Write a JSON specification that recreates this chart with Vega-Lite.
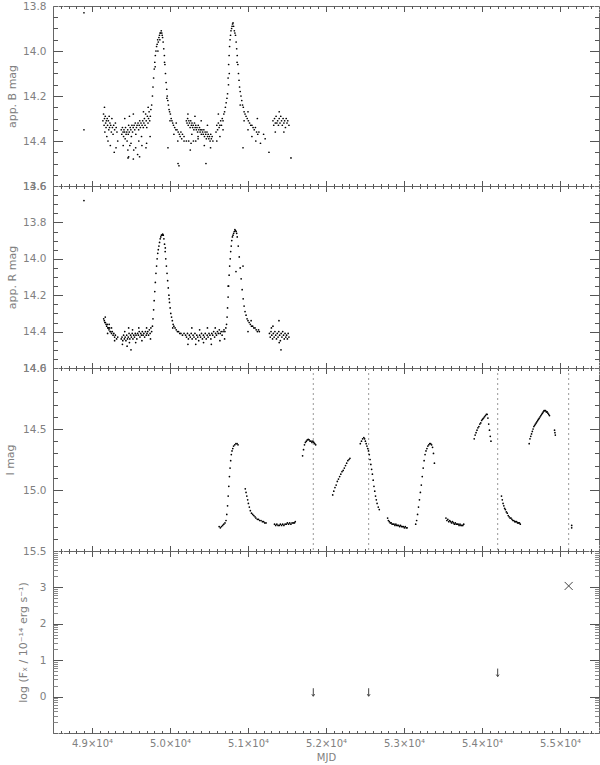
{
"$schema": "https://vega.github.io/schema/vega-lite/v6.json",
"padding": {"left": 3, "top": 0, "right": 2, "bottom": 0},
"background": "white",
"spacing": 0,
"bounds": "flush",
"config": {
  "view": {"stroke": "#666", "strokeWidth": 1},
  "axis": {"labelFont": "DejaVu Sans", "labelColor": "#808080", "labelFontSize": 10.5, "titleFont": "DejaVu Sans", "titleColor": "#808080", "titleFontWeight": "normal", "titleFontSize": 11, "grid": false}
},
"datasets": {
"xr": [{"t":51837,"v":0.12,"kind":"ul"},{"t":52547,"v":0.12,"kind":"ul"},{"t":54201,"v":0.66,"kind":"ul"},{"t":55111,"v":3.04,"kind":"det"}],
"B": [
{"t":48897,"m":13.83},{"t":48897,"m":14.35},
{"t":49140,"m":14.31},{"t":49148,"m":14.28},{"t":49155,"m":14.33},{"t":49160,"m":14.30},{"t":49165,"m":14.36},{"t":49170,"m":14.29},{"t":49175,"m":14.32},{"t":49180,"m":14.34},{"t":49185,"m":14.31},{"t":49190,"m":14.38},{"t":49195,"m":14.30},{"t":49200,"m":14.33},{"t":49205,"m":14.40},{"t":49210,"m":14.31},{"t":49215,"m":14.35},{"t":49220,"m":14.29},{"t":49225,"m":14.34},{"t":49230,"m":14.32},{"t":49235,"m":14.42},{"t":49240,"m":14.33},{"t":49248,"m":14.36},{"t":49255,"m":14.30},{"t":49262,"m":14.34},{"t":49270,"m":14.37},{"t":49278,"m":14.33},{"t":49285,"m":14.45},{"t":49290,"m":14.35},{"t":49300,"m":14.32},{"t":49310,"m":14.34},{"t":49320,"m":14.36},{"t":49330,"m":14.40},{"t":49160,"m":14.25},{"t":49308,"m":14.43},
{"t":49375,"m":14.35},{"t":49382,"m":14.37},{"t":49390,"m":14.34},{"t":49398,"m":14.36},{"t":49405,"m":14.38},{"t":49410,"m":14.35},{"t":49418,"m":14.36},{"t":49425,"m":14.39},{"t":49430,"m":14.34},{"t":49437,"m":14.37},{"t":49445,"m":14.36},{"t":49450,"m":14.40},{"t":49458,"m":14.35},{"t":49465,"m":14.37},{"t":49470,"m":14.33},{"t":49478,"m":14.36},{"t":49485,"m":14.42},{"t":49490,"m":14.34},{"t":49498,"m":14.35},{"t":49505,"m":14.38},{"t":49512,"m":14.33},{"t":49520,"m":14.36},{"t":49528,"m":14.34},{"t":49535,"m":14.44},{"t":49540,"m":14.33},{"t":49548,"m":14.35},{"t":49555,"m":14.32},{"t":49562,"m":14.37},{"t":49570,"m":14.34},{"t":49578,"m":14.33},{"t":49585,"m":14.46},{"t":49590,"m":14.32},{"t":49598,"m":14.35},{"t":49605,"m":14.33},{"t":49612,"m":14.31},{"t":49620,"m":14.34},{"t":49628,"m":14.32},{"t":49635,"m":14.38},{"t":49642,"m":14.33},{"t":49650,"m":14.31},{"t":49658,"m":14.34},{"t":49665,"m":14.32},{"t":49672,"m":14.30},{"t":49680,"m":14.33},{"t":49688,"m":14.28},{"t":49695,"m":14.31},{"t":49702,"m":14.34},{"t":49710,"m":14.29},{"t":49718,"m":14.32},{"t":49725,"m":14.30},{"t":49732,"m":14.27},{"t":49740,"m":14.31},{"t":49748,"m":14.29},{"t":49755,"m":14.26},
{"t":49400,"m":14.42},{"t":49420,"m":14.30},{"t":49460,"m":14.44},{"t":49480,"m":14.29},{"t":49500,"m":14.41},{"t":49530,"m":14.28},{"t":49560,"m":14.43},{"t":49600,"m":14.40},{"t":49610,"m":14.47},{"t":49640,"m":14.42},{"t":49660,"m":14.27},{"t":49700,"m":14.41},{"t":49720,"m":14.25},{"t":49745,"m":14.38},{"t":49530,"m":14.48},{"t":49470,"m":14.47},{"t":49462,"m":14.475},{"t":49692,"m":14.43},
{"t":49765,"m":14.24},{"t":49775,"m":14.20},{"t":49782,"m":14.16},{"t":49790,"m":14.12},{"t":49798,"m":14.08},{"t":49805,"m":14.05},{"t":49812,"m":14.02},{"t":49820,"m":14.00},{"t":49828,"m":13.98},{"t":49835,"m":13.97},{"t":49842,"m":13.95},{"t":49850,"m":13.96},{"t":49858,"m":13.94},{"t":49865,"m":13.93},{"t":49872,"m":13.92},{"t":49880,"m":13.92},{"t":49888,"m":13.91},{"t":49895,"m":13.92},{"t":49900,"m":13.93},{"t":49810,"m":14.07},{"t":49845,"m":14.00},{"t":49870,"m":13.95},
{"t":49905,"m":13.94},{"t":49912,"m":13.96},{"t":49920,"m":13.99},{"t":49928,"m":14.02},{"t":49935,"m":14.06},{"t":49942,"m":14.10},{"t":49950,"m":14.14},{"t":49958,"m":14.17},{"t":49965,"m":14.20},{"t":49972,"m":14.22},{"t":49980,"m":14.24},{"t":49988,"m":14.26},{"t":49995,"m":14.27},{"t":50005,"m":14.28},{"t":50015,"m":14.30},{"t":50025,"m":14.31},{"t":50035,"m":14.32},{"t":50045,"m":14.33},{"t":50060,"m":14.34},{"t":50075,"m":14.35},{"t":50090,"m":14.35},{"t":50105,"m":14.36},{"t":50120,"m":14.37},{"t":50140,"m":14.36},{"t":50160,"m":14.37},{"t":50180,"m":14.38},
{"t":49930,"m":14.05},{"t":49960,"m":14.21},{"t":50000,"m":14.31},{"t":50050,"m":14.37},{"t":50080,"m":14.32},{"t":50100,"m":14.40},{"t":50130,"m":14.38},{"t":49974,"m":14.43},{"t":50103,"m":14.50},{"t":50115,"m":14.51},
{"t":50150,"m":14.39},{"t":50180,"m":14.40},{"t":50210,"m":14.40},{"t":50240,"m":14.40},{"t":50270,"m":14.41},{"t":50300,"m":14.40},{"t":50330,"m":14.40},{"t":50360,"m":14.39},
{"t":50210,"m":14.31},{"t":50218,"m":14.32},{"t":50226,"m":14.30},{"t":50234,"m":14.33},{"t":50242,"m":14.31},{"t":50250,"m":14.32},{"t":50258,"m":14.34},{"t":50266,"m":14.31},{"t":50274,"m":14.33},{"t":50282,"m":14.32},{"t":50290,"m":14.34},{"t":50298,"m":14.33},{"t":50306,"m":14.35},{"t":50314,"m":14.32},{"t":50322,"m":14.34},{"t":50330,"m":14.33},{"t":50338,"m":14.35},{"t":50346,"m":14.34},{"t":50354,"m":14.36},{"t":50362,"m":14.33},{"t":50370,"m":14.35},{"t":50378,"m":14.34},{"t":50386,"m":14.36},{"t":50394,"m":14.35},{"t":50402,"m":14.37},{"t":50410,"m":14.35},{"t":50418,"m":14.36},{"t":50426,"m":14.37},{"t":50434,"m":14.35},{"t":50442,"m":14.38},{"t":50450,"m":14.36},{"t":50458,"m":14.37},{"t":50466,"m":14.39},{"t":50474,"m":14.36},{"t":50482,"m":14.38},{"t":50490,"m":14.37},{"t":50498,"m":14.39},{"t":50506,"m":14.38},{"t":50514,"m":14.40},{"t":50522,"m":14.37},{"t":50530,"m":14.39},{"t":50540,"m":14.38},{"t":50550,"m":14.40},
{"t":50230,"m":14.28},{"t":50280,"m":14.37},{"t":50320,"m":14.29},{"t":50360,"m":14.38},{"t":50400,"m":14.31},{"t":50440,"m":14.42},{"t":50480,"m":14.33},{"t":50520,"m":14.43},{"t":50260,"m":14.44},{"t":50461,"m":14.50},
{"t":50590,"m":14.36},{"t":50600,"m":14.33},{"t":50610,"m":14.35},{"t":50620,"m":14.32},{"t":50630,"m":14.34},{"t":50640,"m":14.33},{"t":50650,"m":14.31},{"t":50660,"m":14.33},{"t":50670,"m":14.30},{"t":50680,"m":14.31},{"t":50690,"m":14.28},{"t":50700,"m":14.27},{"t":50710,"m":14.25},{"t":50720,"m":14.23},{"t":50730,"m":14.21},{"t":50738,"m":14.19},{"t":50600,"m":14.40},{"t":50640,"m":14.38},{"t":50680,"m":14.35},{"t":50620,"m":14.28},
{"t":50745,"m":14.12},{"t":50752,"m":14.06},{"t":50758,"m":14.02},{"t":50764,"m":13.98},{"t":50770,"m":13.95},{"t":50776,"m":13.93},{"t":50782,"m":13.91},{"t":50790,"m":13.90},{"t":50796,"m":13.89},{"t":50802,"m":13.88},{"t":50808,"m":13.875},{"t":50815,"m":13.89},{"t":50760,"m":14.10},{"t":50750,"m":14.15},
{"t":50825,"m":13.91},{"t":50832,"m":13.92},{"t":50840,"m":13.93},{"t":50848,"m":13.96},{"t":50855,"m":13.99},{"t":50862,"m":14.02},{"t":50870,"m":14.06},{"t":50878,"m":14.10},{"t":50885,"m":14.13},{"t":50892,"m":14.16},{"t":50900,"m":14.18},{"t":50910,"m":14.20},{"t":50920,"m":14.22},{"t":50930,"m":14.24},{"t":50940,"m":14.25},{"t":50950,"m":14.27},{"t":50962,"m":14.28},{"t":50975,"m":14.29},{"t":50990,"m":14.30},{"t":51005,"m":14.31},{"t":51020,"m":14.32},{"t":51035,"m":14.33},{"t":51050,"m":14.33},{"t":51065,"m":14.34},{"t":51080,"m":14.35},{"t":51095,"m":14.34},{"t":51110,"m":14.36},{"t":51125,"m":14.37},{"t":51140,"m":14.36},
{"t":50860,"m":14.05},{"t":50900,"m":14.24},{"t":50950,"m":14.31},{"t":51000,"m":14.35},{"t":51050,"m":14.38},{"t":51100,"m":14.40},{"t":51120,"m":14.30},{"t":51000,"m":14.27},{"t":51160,"m":14.41},{"t":51200,"m":14.37},{"t":51220,"m":14.39},{"t":50936,"m":14.43},{"t":51269,"m":14.45},
{"t":51320,"m":14.31},{"t":51330,"m":14.33},{"t":51340,"m":14.30},{"t":51350,"m":14.32},{"t":51360,"m":14.29},{"t":51370,"m":14.32},{"t":51380,"m":14.31},{"t":51390,"m":14.33},{"t":51400,"m":14.30},{"t":51410,"m":14.32},{"t":51420,"m":14.29},{"t":51430,"m":14.31},{"t":51440,"m":14.33},{"t":51450,"m":14.30},{"t":51460,"m":14.32},{"t":51470,"m":14.31},{"t":51480,"m":14.34},{"t":51490,"m":14.30},{"t":51500,"m":14.32},{"t":51510,"m":14.31},{"t":51525,"m":14.33},{"t":51400,"m":14.27},{"t":51460,"m":14.36},{"t":51350,"m":14.36},{"t":51551,"m":14.475}
],
"R": [
{"t":48897,"m":13.68},
{"t":49150,"m":14.33},{"t":49158,"m":14.34},{"t":49165,"m":14.35},{"t":49172,"m":14.35},{"t":49180,"m":14.36},{"t":49188,"m":14.37},{"t":49195,"m":14.36},{"t":49203,"m":14.38},{"t":49210,"m":14.38},{"t":49218,"m":14.39},{"t":49225,"m":14.38},{"t":49232,"m":14.40},{"t":49240,"m":14.40},{"t":49250,"m":14.41},{"t":49260,"m":14.40},{"t":49270,"m":14.42},{"t":49280,"m":14.41},{"t":49290,"m":14.43},{"t":49300,"m":14.42},{"t":49315,"m":14.44},{"t":49330,"m":14.43},{"t":49170,"m":14.32},{"t":49200,"m":14.41},{"t":49250,"m":14.38},{"t":49290,"m":14.45},{"t":49220,"m":14.36},
{"t":49375,"m":14.44},{"t":49385,"m":14.43},{"t":49395,"m":14.45},{"t":49405,"m":14.42},{"t":49415,"m":14.44},{"t":49425,"m":14.43},{"t":49435,"m":14.45},{"t":49445,"m":14.42},{"t":49455,"m":14.44},{"t":49465,"m":14.43},{"t":49475,"m":14.41},{"t":49485,"m":14.44},{"t":49495,"m":14.42},{"t":49505,"m":14.43},{"t":49515,"m":14.41},{"t":49525,"m":14.44},{"t":49535,"m":14.42},{"t":49545,"m":14.43},{"t":49555,"m":14.41},{"t":49565,"m":14.42},{"t":49575,"m":14.44},{"t":49585,"m":14.41},{"t":49595,"m":14.42},{"t":49605,"m":14.40},{"t":49615,"m":14.43},{"t":49625,"m":14.41},{"t":49635,"m":14.42},{"t":49645,"m":14.40},{"t":49655,"m":14.42},{"t":49665,"m":14.41},{"t":49675,"m":14.43},{"t":49685,"m":14.40},{"t":49695,"m":14.42},{"t":49705,"m":14.41},{"t":49715,"m":14.40},{"t":49725,"m":14.42},{"t":49735,"m":14.39},{"t":49745,"m":14.41},{"t":49755,"m":14.38},{"t":49765,"m":14.40},
{"t":49390,"m":14.47},{"t":49420,"m":14.40},{"t":49450,"m":14.48},{"t":49480,"m":14.46},{"t":49500,"m":14.50},{"t":49520,"m":14.39},{"t":49560,"m":14.46},{"t":49600,"m":14.38},{"t":49640,"m":14.45},{"t":49700,"m":14.38},{"t":49750,"m":14.44},{"t":49470,"m":14.38},
{"t":49775,"m":14.37},{"t":49782,"m":14.33},{"t":49790,"m":14.28},{"t":49797,"m":14.23},{"t":49805,"m":14.18},{"t":49812,"m":14.13},{"t":49820,"m":14.08},{"t":49828,"m":14.04},{"t":49835,"m":14.00},{"t":49843,"m":13.97},{"t":49850,"m":13.95},{"t":49858,"m":13.93},{"t":49866,"m":13.91},{"t":49874,"m":13.89},{"t":49882,"m":13.88},{"t":49890,"m":13.87},{"t":49898,"m":13.87},{"t":49906,"m":13.865},{"t":49914,"m":13.87},
{"t":49922,"m":13.89},{"t":49930,"m":13.92},{"t":49938,"m":13.96},{"t":49946,"m":14.00},{"t":49954,"m":14.04},{"t":49962,"m":14.08},{"t":49970,"m":14.12},{"t":49978,"m":14.16},{"t":49986,"m":14.20},{"t":49994,"m":14.24},{"t":50002,"m":14.27},{"t":50010,"m":14.30},{"t":50020,"m":14.32},{"t":50030,"m":14.34},{"t":50040,"m":14.36},{"t":50050,"m":14.37},{"t":50065,"m":14.38},{"t":50080,"m":14.39},{"t":50095,"m":14.40},{"t":50110,"m":14.40},{"t":50125,"m":14.41},{"t":50140,"m":14.41},{"t":50160,"m":14.42},{"t":50180,"m":14.41},{"t":49940,"m":13.94},{"t":49990,"m":14.22},{"t":50035,"m":14.38},
{"t":50200,"m":14.42},{"t":50212,"m":14.43},{"t":50224,"m":14.41},{"t":50236,"m":14.44},{"t":50248,"m":14.42},{"t":50260,"m":14.43},{"t":50272,"m":14.41},{"t":50284,"m":14.44},{"t":50296,"m":14.42},{"t":50308,"m":14.43},{"t":50320,"m":14.41},{"t":50332,"m":14.44},{"t":50344,"m":14.42},{"t":50356,"m":14.43},{"t":50368,"m":14.45},{"t":50380,"m":14.42},{"t":50392,"m":14.43},{"t":50404,"m":14.41},{"t":50416,"m":14.44},{"t":50428,"m":14.42},{"t":50440,"m":14.43},{"t":50452,"m":14.41},{"t":50464,"m":14.44},{"t":50476,"m":14.42},{"t":50488,"m":14.43},{"t":50500,"m":14.41},{"t":50512,"m":14.42},{"t":50524,"m":14.44},{"t":50536,"m":14.41},{"t":50548,"m":14.42},{"t":50560,"m":14.40},{"t":50572,"m":14.43},{"t":50584,"m":14.41},{"t":50596,"m":14.42},{"t":50608,"m":14.40},{"t":50620,"m":14.41},{"t":50632,"m":14.39},{"t":50644,"m":14.41},{"t":50656,"m":14.40},{"t":50668,"m":14.42},{"t":50680,"m":14.40},{"t":50692,"m":14.39},{"t":50704,"m":14.40},{"t":50716,"m":14.38},
{"t":50230,"m":14.47},{"t":50280,"m":14.38},{"t":50330,"m":14.47},{"t":50380,"m":14.39},{"t":50430,"m":14.46},{"t":50480,"m":14.38},{"t":50530,"m":14.47},{"t":50580,"m":14.38},{"t":50640,"m":14.45},{"t":50700,"m":14.44},
{"t":50725,"m":14.36},{"t":50732,"m":14.32},{"t":50738,"m":14.27},{"t":50745,"m":14.21},{"t":50752,"m":14.15},{"t":50758,"m":14.09},{"t":50765,"m":14.04},{"t":50772,"m":14.00},{"t":50778,"m":13.96},{"t":50785,"m":13.93},{"t":50792,"m":13.90},{"t":50800,"m":13.88},{"t":50808,"m":13.87},{"t":50816,"m":13.86},{"t":50824,"m":13.85},{"t":50832,"m":13.84},{"t":50840,"m":13.845},{"t":50848,"m":13.85},{"t":50855,"m":13.86},{"t":50745,"m":14.15},{"t":50846,"m":14.07},
{"t":50862,"m":13.88},{"t":50875,"m":13.93},{"t":50888,"m":13.99},{"t":50900,"m":14.05},{"t":50912,"m":14.11},{"t":50925,"m":14.17},{"t":50938,"m":14.22},{"t":50950,"m":14.26},{"t":50962,"m":14.29},{"t":50975,"m":14.31},{"t":50988,"m":14.33},{"t":51000,"m":14.34},{"t":51015,"m":14.35},{"t":51030,"m":14.36},{"t":51045,"m":14.37},{"t":51060,"m":14.37},{"t":51075,"m":14.38},{"t":51090,"m":14.38},{"t":51105,"m":14.39},{"t":51120,"m":14.40},{"t":51135,"m":14.39},{"t":51145,"m":14.40},{"t":50936,"m":14.04},{"t":51000,"m":14.40},{"t":51040,"m":14.34},
{"t":51275,"m":14.41},{"t":51285,"m":14.43},{"t":51295,"m":14.40},{"t":51305,"m":14.42},{"t":51315,"m":14.44},{"t":51325,"m":14.41},{"t":51335,"m":14.43},{"t":51345,"m":14.40},{"t":51355,"m":14.42},{"t":51365,"m":14.44},{"t":51375,"m":14.41},{"t":51385,"m":14.43},{"t":51395,"m":14.40},{"t":51405,"m":14.42},{"t":51415,"m":14.45},{"t":51425,"m":14.41},{"t":51435,"m":14.43},{"t":51445,"m":14.40},{"t":51455,"m":14.42},{"t":51465,"m":14.44},{"t":51475,"m":14.41},{"t":51485,"m":14.43},{"t":51495,"m":14.42},{"t":51505,"m":14.44},{"t":51515,"m":14.41},{"t":51525,"m":14.43},{"t":51320,"m":14.37},{"t":51400,"m":14.46},{"t":51300,"m":14.38},{"t":51423,"m":14.50},{"t":51397,"m":14.34}
],
"I": [
{"t":50630,"m":15.30},{"t":50645,"m":15.31},{"t":50660,"m":15.30},{"t":50675,"m":15.29},{"t":50690,"m":15.28},{"t":50705,"m":15.27},{"t":50718,"m":15.25},{"t":50728,"m":15.20},{"t":50738,"m":15.13},{"t":50746,"m":15.05},{"t":50754,"m":14.97},{"t":50762,"m":14.89},{"t":50770,"m":14.82},{"t":50778,"m":14.76},{"t":50786,"m":14.71},{"t":50795,"m":14.68},{"t":50805,"m":14.66},{"t":50815,"m":14.64},{"t":50830,"m":14.63},{"t":50845,"m":14.62},{"t":50860,"m":14.62},{"t":50872,"m":14.63},
{"t":50965,"m":14.99},{"t":50975,"m":15.02},{"t":50985,"m":15.05},{"t":50996,"m":15.08},{"t":51005,"m":15.11},{"t":51017,"m":15.14},{"t":51030,"m":15.17},{"t":51045,"m":15.19},{"t":51060,"m":15.20},{"t":51075,"m":15.21},{"t":51090,"m":15.22},{"t":51102,"m":15.23},{"t":51120,"m":15.24},{"t":51135,"m":15.24},{"t":51150,"m":15.25},{"t":51167,"m":15.25},{"t":51185,"m":15.26},{"t":51200,"m":15.26},{"t":51215,"m":15.27},{"t":51231,"m":15.27},
{"t":51340,"m":15.28},{"t":51355,"m":15.29},{"t":51370,"m":15.28},{"t":51385,"m":15.29},{"t":51400,"m":15.29},{"t":51415,"m":15.28},{"t":51430,"m":15.29},{"t":51445,"m":15.28},{"t":51460,"m":15.29},{"t":51475,"m":15.28},{"t":51490,"m":15.28},{"t":51505,"m":15.27},{"t":51520,"m":15.28},{"t":51535,"m":15.27},{"t":51550,"m":15.28},{"t":51565,"m":15.27},{"t":51580,"m":15.27},{"t":51595,"m":15.27},{"t":51606,"m":15.26},
{"t":51700,"m":14.72},{"t":51712,"m":14.67},{"t":51724,"m":14.63},{"t":51736,"m":14.61},{"t":51748,"m":14.60},{"t":51760,"m":14.59},{"t":51772,"m":14.585},{"t":51784,"m":14.59},{"t":51796,"m":14.60},{"t":51808,"m":14.60},{"t":51820,"m":14.61},{"t":51832,"m":14.60},{"t":51844,"m":14.61},{"t":51856,"m":14.62},{"t":51868,"m":14.63},
{"t":52086,"m":15.04},{"t":52100,"m":15.01},{"t":52115,"m":14.98},{"t":52130,"m":14.96},{"t":52145,"m":14.93},{"t":52160,"m":14.91},{"t":52175,"m":14.89},{"t":52190,"m":14.87},{"t":52205,"m":14.85},{"t":52220,"m":14.84},{"t":52235,"m":14.82},{"t":52250,"m":14.80},{"t":52265,"m":14.78},{"t":52280,"m":14.76},{"t":52295,"m":14.75},{"t":52307,"m":14.74},
{"t":52440,"m":14.62},{"t":52455,"m":14.60},{"t":52470,"m":14.58},{"t":52485,"m":14.57},{"t":52495,"m":14.58},{"t":52505,"m":14.60},{"t":52515,"m":14.62},{"t":52525,"m":14.64},{"t":52535,"m":14.66},{"t":52545,"m":14.68},{"t":52555,"m":14.71},{"t":52565,"m":14.75},{"t":52575,"m":14.79},{"t":52585,"m":14.83},{"t":52595,"m":14.87},{"t":52605,"m":14.92},{"t":52615,"m":14.97},{"t":52625,"m":15.01},{"t":52635,"m":15.05},{"t":52645,"m":15.08},{"t":52655,"m":15.11},{"t":52670,"m":15.14},{"t":52683,"m":15.16},
{"t":52790,"m":15.23},{"t":52800,"m":15.25},{"t":52812,"m":15.26},{"t":52824,"m":15.27},{"t":52836,"m":15.27},{"t":52848,"m":15.28},{"t":52860,"m":15.28},{"t":52872,"m":15.28},{"t":52884,"m":15.29},{"t":52896,"m":15.28},{"t":52908,"m":15.29},{"t":52920,"m":15.29},{"t":52932,"m":15.29},{"t":52944,"m":15.30},{"t":52956,"m":15.29},{"t":52968,"m":15.30},{"t":52980,"m":15.30},{"t":52992,"m":15.30},{"t":53004,"m":15.31},{"t":53016,"m":15.30},{"t":53028,"m":15.31},{"t":53040,"m":15.31},
{"t":53150,"m":15.28},{"t":53162,"m":15.25},{"t":53174,"m":15.20},{"t":53186,"m":15.14},{"t":53198,"m":15.08},{"t":53210,"m":15.02},{"t":53222,"m":14.96},{"t":53234,"m":14.89},{"t":53246,"m":14.82},{"t":53258,"m":14.76},{"t":53270,"m":14.71},{"t":53282,"m":14.68},{"t":53294,"m":14.66},{"t":53306,"m":14.64},{"t":53318,"m":14.63},{"t":53330,"m":14.62},{"t":53342,"m":14.62},{"t":53354,"m":14.63},{"t":53366,"m":14.65},{"t":53378,"m":14.70},{"t":53390,"m":14.78},
{"t":53538,"m":15.23},{"t":53550,"m":15.25},{"t":53562,"m":15.24},{"t":53574,"m":15.26},{"t":53586,"m":15.25},{"t":53598,"m":15.26},{"t":53610,"m":15.27},{"t":53622,"m":15.26},{"t":53634,"m":15.27},{"t":53646,"m":15.28},{"t":53658,"m":15.27},{"t":53670,"m":15.28},{"t":53682,"m":15.28},{"t":53694,"m":15.28},{"t":53706,"m":15.29},{"t":53718,"m":15.28},{"t":53730,"m":15.29},{"t":53742,"m":15.29},{"t":53754,"m":15.29},{"t":53766,"m":15.28},
{"t":53900,"m":14.58},{"t":53912,"m":14.55},{"t":53924,"m":14.53},{"t":53936,"m":14.51},{"t":53948,"m":14.49},{"t":53960,"m":14.48},{"t":53972,"m":14.46},{"t":53984,"m":14.45},{"t":53996,"m":14.43},{"t":54008,"m":14.42},{"t":54020,"m":14.41},{"t":54032,"m":14.40},{"t":54044,"m":14.39},{"t":54056,"m":14.38},{"t":54066,"m":14.38},{"t":54076,"m":14.41},{"t":54086,"m":14.46},{"t":54096,"m":14.51},{"t":54106,"m":14.56},{"t":54115,"m":14.60},
{"t":54250,"m":15.05},{"t":54260,"m":15.08},{"t":54270,"m":15.11},{"t":54280,"m":15.13},{"t":54290,"m":15.15},{"t":54300,"m":15.16},{"t":54312,"m":15.18},{"t":54324,"m":15.19},{"t":54336,"m":15.21},{"t":54348,"m":15.22},{"t":54360,"m":15.23},{"t":54372,"m":15.23},{"t":54384,"m":15.24},{"t":54396,"m":15.25},{"t":54408,"m":15.25},{"t":54420,"m":15.26},{"t":54432,"m":15.26},{"t":54444,"m":15.26},{"t":54456,"m":15.27},{"t":54468,"m":15.27},{"t":54480,"m":15.27},{"t":54491,"m":15.28},
{"t":54605,"m":14.62},{"t":54615,"m":14.58},{"t":54625,"m":14.56},{"t":54635,"m":14.54},{"t":54645,"m":14.52},{"t":54655,"m":14.50},{"t":54665,"m":14.48},{"t":54675,"m":14.47},{"t":54685,"m":14.46},{"t":54695,"m":14.45},{"t":54705,"m":14.44},{"t":54715,"m":14.43},{"t":54725,"m":14.42},{"t":54735,"m":14.41},{"t":54745,"m":14.40},{"t":54755,"m":14.39},{"t":54765,"m":14.38},{"t":54775,"m":14.37},{"t":54785,"m":14.36},{"t":54795,"m":14.35},{"t":54805,"m":14.35},{"t":54815,"m":14.35},{"t":54825,"m":14.36},{"t":54835,"m":14.36},{"t":54845,"m":14.37},{"t":54855,"m":14.38},{"t":54865,"m":14.39},{"t":54930,"m":14.51},{"t":54935,"m":14.53},{"t":54940,"m":14.55},
{"t":55150,"m":15.29},{"t":55150,"m":15.31}
]
},
"vconcat": [
{
  "width": 546, "height": 180,
  "data": {"name": "B"},
  "layer": [
    {"mark": {"type": "circle", "size": 3, "color": "#000", "opacity": 1},
     "encoding": {
       "x": {"field": "t", "type": "quantitative", "scale": {"domain": [48500, 55500], "nice": false, "zero": false}, "axis": null},
       "y": {"field": "m", "type": "quantitative", "scale": {"domain": [13.8, 14.6], "nice": false, "zero": false, "reverse": true},
             "axis": {"orient": "left", "values": [13.8, 14.0, 14.2, 14.4, 14.6], "format": ".1f", "ticks": false, "domainColor": "#666", "labelPadding": 7, "title": "app. B mag", "titleX": -36}}}},
    {"transform": [{"filter": "false"}], "mark": "point", "encoding": {
       "x": {"field": "t", "type": "quantitative", "axis": {"orient": "bottom", "labels": false, "title": null, "domainColor": "white", "tickColor": "#555", "tickWidth": 1, "tickOpacity": 1, "values": [48600,48700,48800,48900,49100,49200,49300,49400,49500,49600,49700,49800,49900,50100,50200,50300,50400,50500,50600,50700,50800,50900,51100,51200,51300,51400,51500,51600,51700,51800,51900,52100,52200,52300,52400,52500,52600,52700,52800,52900,53100,53200,53300,53400,53500,53600,53700,53800,53900,54100,54200,54300,54400,54500,54600,54700,54800,54900,55100,55200,55300,55400], "tickSize": 3, "offset": -3}},
       "y": {"field": "m", "type": "quantitative", "axis": {"orient": "left", "labels": false, "title": null, "domainColor": "white", "tickColor": "#555", "tickWidth": 1, "tickOpacity": 1, "values": [13.85,13.9,13.95,14.05,14.1,14.15,14.25,14.3,14.35,14.45,14.5,14.55], "tickSize": 5, "offset": -5}}}},
    {"transform": [{"filter": "false"}], "mark": "point", "encoding": {
       "x": {"field": "t", "type": "quantitative", "axis": {"orient": "top", "labels": false, "title": null, "domainColor": "white", "tickColor": "#555", "tickWidth": 1, "tickOpacity": 1, "values": [48600,48700,48800,48900,49100,49200,49300,49400,49500,49600,49700,49800,49900,50100,50200,50300,50400,50500,50600,50700,50800,50900,51100,51200,51300,51400,51500,51600,51700,51800,51900,52100,52200,52300,52400,52500,52600,52700,52800,52900,53100,53200,53300,53400,53500,53600,53700,53800,53900,54100,54200,54300,54400,54500,54600,54700,54800,54900,55100,55200,55300,55400], "tickSize": 3, "offset": -3}},
       "y": {"field": "m", "type": "quantitative", "axis": {"orient": "right", "labels": false, "title": null, "domainColor": "white", "tickColor": "#555", "tickWidth": 1, "tickOpacity": 1, "values": [13.85,13.9,13.95,14.05,14.1,14.15,14.25,14.3,14.35,14.45,14.5,14.55], "tickSize": 5, "offset": -5}}}},
    {"transform": [{"filter": "false"}], "mark": "point", "encoding": {
       "x": {"field": "t", "type": "quantitative", "axis": {"orient": "bottom", "labels": false, "title": null, "domainColor": "white", "tickColor": "#555", "tickWidth": 1, "tickOpacity": 1, "values": [49000,50000,51000,52000,53000,54000,55000], "tickSize": 6, "offset": -6}},
       "y": {"field": "m", "type": "quantitative", "axis": {"orient": "left", "labels": false, "title": null, "domainColor": "white", "tickColor": "#555", "tickWidth": 1, "tickOpacity": 1, "values": [14.0,14.2,14.4], "tickSize": 10, "offset": -10}}}},
    {"transform": [{"filter": "false"}], "mark": "point", "encoding": {
       "x": {"field": "t", "type": "quantitative", "axis": {"orient": "top", "labels": false, "title": null, "domainColor": "white", "tickColor": "#555", "tickWidth": 1, "tickOpacity": 1, "values": [49000,50000,51000,52000,53000,54000,55000], "tickSize": 6, "offset": -6}},
       "y": {"field": "m", "type": "quantitative", "axis": {"orient": "right", "labels": false, "title": null, "domainColor": "white", "tickColor": "#555", "tickWidth": 1, "tickOpacity": 1, "values": [14.0,14.2,14.4], "tickSize": 10, "offset": -10}}}}
  ],
  "resolve": {"axis": {"x": "independent", "y": "independent"}}
},
{
  "width": 546, "height": 182,
  "data": {"name": "R"},
  "layer": [
    {"mark": {"type": "circle", "size": 3, "color": "#000", "opacity": 1},
     "encoding": {
       "x": {"field": "t", "type": "quantitative", "scale": {"domain": [48500, 55500], "nice": false, "zero": false}, "axis": null},
       "y": {"field": "m", "type": "quantitative", "scale": {"domain": [13.6, 14.6], "nice": false, "zero": false, "reverse": true},
             "axis": {"orient": "left", "values": [13.6, 13.8, 14.0, 14.2, 14.4, 14.6], "format": ".1f", "ticks": false, "domainColor": "#666", "labelPadding": 7, "title": "app. R mag", "titleX": -36}}}},
    {"transform": [{"filter": "false"}], "mark": "point", "encoding": {
       "x": {"field": "t", "type": "quantitative", "axis": {"orient": "bottom", "labels": false, "title": null, "domainColor": "white", "tickColor": "#555", "tickWidth": 1, "tickOpacity": 1, "values": [48600,48700,48800,48900,49100,49200,49300,49400,49500,49600,49700,49800,49900,50100,50200,50300,50400,50500,50600,50700,50800,50900,51100,51200,51300,51400,51500,51600,51700,51800,51900,52100,52200,52300,52400,52500,52600,52700,52800,52900,53100,53200,53300,53400,53500,53600,53700,53800,53900,54100,54200,54300,54400,54500,54600,54700,54800,54900,55100,55200,55300,55400], "tickSize": 3, "offset": -3}},
       "y": {"field": "m", "type": "quantitative", "axis": {"orient": "left", "labels": false, "title": null, "domainColor": "white", "tickColor": "#555", "tickWidth": 1, "tickOpacity": 1, "values": [13.65,13.7,13.75,13.85,13.9,13.95,14.05,14.1,14.15,14.25,14.3,14.35,14.45,14.5,14.55], "tickSize": 5, "offset": -5}}}},
    {"transform": [{"filter": "false"}], "mark": "point", "encoding": {
       "x": {"field": "t", "type": "quantitative", "axis": {"orient": "top", "labels": false, "title": null, "domainColor": "white", "tickColor": "#555", "tickWidth": 1, "tickOpacity": 1, "values": [48600,48700,48800,48900,49100,49200,49300,49400,49500,49600,49700,49800,49900,50100,50200,50300,50400,50500,50600,50700,50800,50900,51100,51200,51300,51400,51500,51600,51700,51800,51900,52100,52200,52300,52400,52500,52600,52700,52800,52900,53100,53200,53300,53400,53500,53600,53700,53800,53900,54100,54200,54300,54400,54500,54600,54700,54800,54900,55100,55200,55300,55400], "tickSize": 3, "offset": -3}},
       "y": {"field": "m", "type": "quantitative", "axis": {"orient": "right", "labels": false, "title": null, "domainColor": "white", "tickColor": "#555", "tickWidth": 1, "tickOpacity": 1, "values": [13.65,13.7,13.75,13.85,13.9,13.95,14.05,14.1,14.15,14.25,14.3,14.35,14.45,14.5,14.55], "tickSize": 5, "offset": -5}}}},
    {"transform": [{"filter": "false"}], "mark": "point", "encoding": {
       "x": {"field": "t", "type": "quantitative", "axis": {"orient": "bottom", "labels": false, "title": null, "domainColor": "white", "tickColor": "#555", "tickWidth": 1, "tickOpacity": 1, "values": [49000,50000,51000,52000,53000,54000,55000], "tickSize": 6, "offset": -6}},
       "y": {"field": "m", "type": "quantitative", "axis": {"orient": "left", "labels": false, "title": null, "domainColor": "white", "tickColor": "#555", "tickWidth": 1, "tickOpacity": 1, "values": [13.8,14.0,14.2,14.4], "tickSize": 10, "offset": -10}}}},
    {"transform": [{"filter": "false"}], "mark": "point", "encoding": {
       "x": {"field": "t", "type": "quantitative", "axis": {"orient": "top", "labels": false, "title": null, "domainColor": "white", "tickColor": "#555", "tickWidth": 1, "tickOpacity": 1, "values": [49000,50000,51000,52000,53000,54000,55000], "tickSize": 6, "offset": -6}},
       "y": {"field": "m", "type": "quantitative", "axis": {"orient": "right", "labels": false, "title": null, "domainColor": "white", "tickColor": "#555", "tickWidth": 1, "tickOpacity": 1, "values": [13.8,14.0,14.2,14.4], "tickSize": 10, "offset": -10}}}}
  ],
  "resolve": {"axis": {"x": "independent", "y": "independent"}}
},
{
  "width": 546, "height": 183,
  "data": {"name": "I"},
  "layer": [
    {"data": {"name": "xr"}, "mark": {"type": "rule", "color": "#999", "strokeDash": [2, 3], "strokeWidth": 1},
     "encoding": {"x": {"field": "t", "type": "quantitative", "scale": {"domain": [48500, 55500], "nice": false, "zero": false}, "axis": null}}},
    {"mark": {"type": "circle", "size": 3, "color": "#000", "opacity": 1},
     "encoding": {
       "x": {"field": "t", "type": "quantitative", "axis": null},
       "y": {"field": "m", "type": "quantitative", "scale": {"domain": [14.0, 15.5], "nice": false, "zero": false, "reverse": true},
             "axis": {"orient": "left", "values": [14.0, 14.5, 15.0, 15.5], "format": ".1f", "ticks": false, "domainColor": "#666", "labelPadding": 7, "title": "I mag", "titleX": -38}}}},
    {"transform": [{"filter": "false"}], "mark": "point", "encoding": {
       "x": {"field": "t", "type": "quantitative", "axis": {"orient": "bottom", "labels": false, "title": null, "domainColor": "white", "tickColor": "#555", "tickWidth": 1, "tickOpacity": 1, "values": [48600,48700,48800,48900,49100,49200,49300,49400,49500,49600,49700,49800,49900,50100,50200,50300,50400,50500,50600,50700,50800,50900,51100,51200,51300,51400,51500,51600,51700,51800,51900,52100,52200,52300,52400,52500,52600,52700,52800,52900,53100,53200,53300,53400,53500,53600,53700,53800,53900,54100,54200,54300,54400,54500,54600,54700,54800,54900,55100,55200,55300,55400], "tickSize": 3, "offset": -3}},
       "y": {"field": "m", "type": "quantitative", "axis": {"orient": "left", "labels": false, "title": null, "domainColor": "white", "tickColor": "#555", "tickWidth": 1, "tickOpacity": 1, "values": [14.1,14.2,14.3,14.4,14.6,14.7,14.8,14.9,15.1,15.2,15.3,15.4], "tickSize": 5, "offset": -5}}}},
    {"transform": [{"filter": "false"}], "mark": "point", "encoding": {
       "x": {"field": "t", "type": "quantitative", "axis": {"orient": "top", "labels": false, "title": null, "domainColor": "white", "tickColor": "#555", "tickWidth": 1, "tickOpacity": 1, "values": [48600,48700,48800,48900,49100,49200,49300,49400,49500,49600,49700,49800,49900,50100,50200,50300,50400,50500,50600,50700,50800,50900,51100,51200,51300,51400,51500,51600,51700,51800,51900,52100,52200,52300,52400,52500,52600,52700,52800,52900,53100,53200,53300,53400,53500,53600,53700,53800,53900,54100,54200,54300,54400,54500,54600,54700,54800,54900,55100,55200,55300,55400], "tickSize": 3, "offset": -3}},
       "y": {"field": "m", "type": "quantitative", "axis": {"orient": "right", "labels": false, "title": null, "domainColor": "white", "tickColor": "#555", "tickWidth": 1, "tickOpacity": 1, "values": [14.1,14.2,14.3,14.4,14.6,14.7,14.8,14.9,15.1,15.2,15.3,15.4], "tickSize": 5, "offset": -5}}}},
    {"transform": [{"filter": "false"}], "mark": "point", "encoding": {
       "x": {"field": "t", "type": "quantitative", "axis": {"orient": "bottom", "labels": false, "title": null, "domainColor": "white", "tickColor": "#555", "tickWidth": 1, "tickOpacity": 1, "values": [49000,50000,51000,52000,53000,54000,55000], "tickSize": 6, "offset": -6}},
       "y": {"field": "m", "type": "quantitative", "axis": {"orient": "left", "labels": false, "title": null, "domainColor": "white", "tickColor": "#555", "tickWidth": 1, "tickOpacity": 1, "values": [14.5,15.0], "tickSize": 10, "offset": -10}}}},
    {"transform": [{"filter": "false"}], "mark": "point", "encoding": {
       "x": {"field": "t", "type": "quantitative", "axis": {"orient": "top", "labels": false, "title": null, "domainColor": "white", "tickColor": "#555", "tickWidth": 1, "tickOpacity": 1, "values": [49000,50000,51000,52000,53000,54000,55000], "tickSize": 6, "offset": -6}},
       "y": {"field": "m", "type": "quantitative", "axis": {"orient": "right", "labels": false, "title": null, "domainColor": "white", "tickColor": "#555", "tickWidth": 1, "tickOpacity": 1, "values": [14.5,15.0], "tickSize": 10, "offset": -10}}}}
  ],
  "resolve": {"axis": {"x": "independent", "y": "independent"}}
},
{
  "width": 546, "height": 182,
  "data": {"name": "xr"},
  "layer": [
    {"mark": {"type": "point", "filled": false, "color": "#444", "strokeWidth": 1, "opacity": 1},
     "encoding": {
       "x": {"field": "t", "type": "quantitative", "scale": {"domain": [48500, 55500], "nice": false, "zero": false},
             "axis": {"orient": "bottom", "values": [49000,50000,51000,52000,53000,54000,55000], "labelExpr": "format(datum.value/10000, '.1f') + '×10⁴'", "labelFlush": false, "labelFontSize": 10, "ticks": false, "domainColor": "#666", "labelPadding": 5, "title": "MJD", "titleFontSize": 10, "titlePadding": 4}},
       "y": {"field": "v", "type": "quantitative", "scale": {"domain": [-1, 4], "nice": false, "zero": false},
             "axis": {"orient": "left", "values": [0, 1, 2, 3], "format": "d", "ticks": false, "domainColor": "#666", "labelPadding": 7, "title": "log (Fₓ / 10⁻¹⁴ erg s⁻¹)", "titleX": -25}},
       "shape": {"field": "kind", "type": "nominal", "scale": {"domain": ["ul", "det"], "range": ["M0,-1L0,1M-0.35,0.5L0,1L0.35,0.5", "M-1,-1L1,1M-1,1L1,-1"]}, "legend": null},
       "size": {"field": "kind", "type": "nominal", "scale": {"domain": ["ul", "det"], "range": [64, 64]}, "legend": null}}},
    {"transform": [{"filter": "false"}], "mark": "point", "encoding": {
       "x": {"field": "t", "type": "quantitative", "axis": {"orient": "bottom", "labels": false, "title": null, "domainColor": "white", "tickColor": "#555", "tickWidth": 1, "tickOpacity": 1, "values": [48600,48700,48800,48900,49100,49200,49300,49400,49500,49600,49700,49800,49900,50100,50200,50300,50400,50500,50600,50700,50800,50900,51100,51200,51300,51400,51500,51600,51700,51800,51900,52100,52200,52300,52400,52500,52600,52700,52800,52900,53100,53200,53300,53400,53500,53600,53700,53800,53900,54100,54200,54300,54400,54500,54600,54700,54800,54900,55100,55200,55300,55400], "tickSize": 3, "offset": -3}},
       "y": {"field": "v", "type": "quantitative", "axis": {"orient": "left", "labels": false, "title": null, "domainColor": "white", "tickColor": "#888", "tickWidth": 1, "tickOpacity": 1, "values": [-0.699,-0.523,-0.398,-0.301,-0.222,-0.155,-0.097,-0.046,0.301,0.477,0.602,0.699,0.778,0.845,0.903,0.954,1.301,1.477,1.602,1.699,1.778,1.845,1.903,1.954,2.301,2.477,2.602,2.699,2.778,2.845,2.903,2.954,3.301,3.477,3.602,3.699,3.778,3.845,3.903,3.954], "tickSize": 5, "offset": -5}}}},
    {"transform": [{"filter": "false"}], "mark": "point", "encoding": {
       "x": {"field": "t", "type": "quantitative", "axis": {"orient": "top", "labels": false, "title": null, "domainColor": "white", "tickColor": "#555", "tickWidth": 1, "tickOpacity": 1, "values": [48600,48700,48800,48900,49100,49200,49300,49400,49500,49600,49700,49800,49900,50100,50200,50300,50400,50500,50600,50700,50800,50900,51100,51200,51300,51400,51500,51600,51700,51800,51900,52100,52200,52300,52400,52500,52600,52700,52800,52900,53100,53200,53300,53400,53500,53600,53700,53800,53900,54100,54200,54300,54400,54500,54600,54700,54800,54900,55100,55200,55300,55400], "tickSize": 3, "offset": -3}},
       "y": {"field": "v", "type": "quantitative", "axis": {"orient": "right", "labels": false, "title": null, "domainColor": "white", "tickColor": "#888", "tickWidth": 1, "tickOpacity": 1, "values": [-0.699,-0.523,-0.398,-0.301,-0.222,-0.155,-0.097,-0.046,0.301,0.477,0.602,0.699,0.778,0.845,0.903,0.954,1.301,1.477,1.602,1.699,1.778,1.845,1.903,1.954,2.301,2.477,2.602,2.699,2.778,2.845,2.903,2.954,3.301,3.477,3.602,3.699,3.778,3.845,3.903,3.954], "tickSize": 5, "offset": -5}}}},
    {"transform": [{"filter": "false"}], "mark": "point", "encoding": {
       "x": {"field": "t", "type": "quantitative", "axis": {"orient": "bottom", "labels": false, "title": null, "domainColor": "white", "tickColor": "#555", "tickWidth": 1, "tickOpacity": 1, "values": [49000,50000,51000,52000,53000,54000,55000], "tickSize": 6, "offset": -6}},
       "y": {"field": "v", "type": "quantitative", "axis": {"orient": "left", "labels": false, "title": null, "domainColor": "white", "tickColor": "#555", "tickWidth": 1, "tickOpacity": 1, "values": [0,1,2,3], "tickSize": 10, "offset": -10}}}},
    {"transform": [{"filter": "false"}], "mark": "point", "encoding": {
       "x": {"field": "t", "type": "quantitative", "axis": {"orient": "top", "labels": false, "title": null, "domainColor": "white", "tickColor": "#555", "tickWidth": 1, "tickOpacity": 1, "values": [49000,50000,51000,52000,53000,54000,55000], "tickSize": 6, "offset": -6}},
       "y": {"field": "v", "type": "quantitative", "axis": {"orient": "right", "labels": false, "title": null, "domainColor": "white", "tickColor": "#555", "tickWidth": 1, "tickOpacity": 1, "values": [0,1,2,3], "tickSize": 10, "offset": -10}}}}
  ],
  "resolve": {"axis": {"x": "independent", "y": "independent"}}
}
]
}
